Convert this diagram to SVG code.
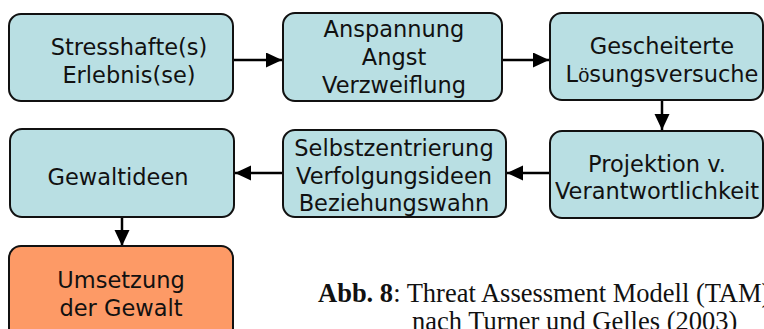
<svg xmlns="http://www.w3.org/2000/svg" width="764" height="329" viewBox="0 0 764 329">
<style>
.box{fill:#B9DFE3;stroke:#111;stroke-width:2}
.hot{fill:#FD9A66;stroke:#111;stroke-width:2}
.t{font-family:"DejaVu Sans",Verdana,sans-serif;font-size:22.5px;fill:#111;text-anchor:middle}
.c{font-family:"Liberation Serif","Times New Roman",serif;font-size:26.5px;fill:#111}
.edge{stroke:#000;stroke-width:2.5;fill:none;marker-end:url(#ah)}
</style>
<defs>
<marker id="ah" markerUnits="userSpaceOnUse" markerWidth="17" markerHeight="16" refX="16" refY="7.5" orient="auto">
<path d="M0,0 L16,7.5 L0,15 z" fill="#000"/>
</marker>
</defs>
<g id="connectors">
<line class="edge" x1="233" y1="60" x2="282" y2="60"/>
<line class="edge" x1="502" y1="60" x2="549" y2="60"/>
<line class="edge" x1="662" y1="100" x2="662" y2="130"/>
<line class="edge" x1="550" y1="173" x2="507" y2="173"/>
<line class="edge" x1="283" y1="173" x2="235" y2="173"/>
<line class="edge" x1="122" y1="217" x2="122" y2="246"/>
</g>
<g id="n1">
<rect class="box" x="9" y="14" width="224" height="87" rx="12"/>
<text class="t" x="129" y="55">Stresshafte(s)</text>
<text class="t" x="129" y="83">Erlebnis(se)</text>
</g>
<g id="n2">
<rect class="box" x="283" y="13" width="219" height="88" rx="12"/>
<text class="t" x="394" y="37">Anspannung</text>
<text class="t" x="394" y="65">Angst</text>
<text class="t" x="394" y="93">Verzweiflung</text>
</g>
<g id="n3">
<rect class="box" x="550" y="13" width="213" height="87" rx="12"/>
<text class="t" x="662" y="54">Gescheiterte</text>
<text class="t" x="662" y="82">L<tspan style="font-family:'Liberation Sans',Arial,sans-serif;font-size:20px">ö</tspan>sungsversuche</text>
</g>
<g id="n4">
<rect class="box" x="10" y="129" width="224" height="88" rx="12"/>
<text class="t" x="118" y="185">Gewaltideen</text>
</g>
<g id="n5">
<rect class="box" x="283" y="130" width="223" height="87" rx="12"/>
<text class="t" x="394" y="156">Selbstzentrierung</text>
<text class="t" x="394" y="183.5">Verfolgungsideen</text>
<text class="t" x="394" y="211">Beziehungswahn</text>
</g>
<g id="n6">
<rect class="box" x="550" y="131" width="213" height="87" rx="12"/>
<text class="t" x="657" y="172">Projektion v.</text>
<text class="t" x="657" y="199">Verantwortlichkeit</text>
</g>
<g id="n7">
<rect class="hot" x="9" y="246" width="224" height="100" rx="12"/>
<text class="t" x="121" y="288">Umsetzung</text>
<text class="t" x="121" y="316">der Gewalt</text>
</g>
<g id="caption">
<text class="c" x="318" y="302"><tspan font-weight="bold">Abb. 8</tspan>: Threat Assessment Modell (TAM)</text>
<text class="c" x="412" y="330">nach Turner und Gelles (2003)</text>
</g>
</svg>
